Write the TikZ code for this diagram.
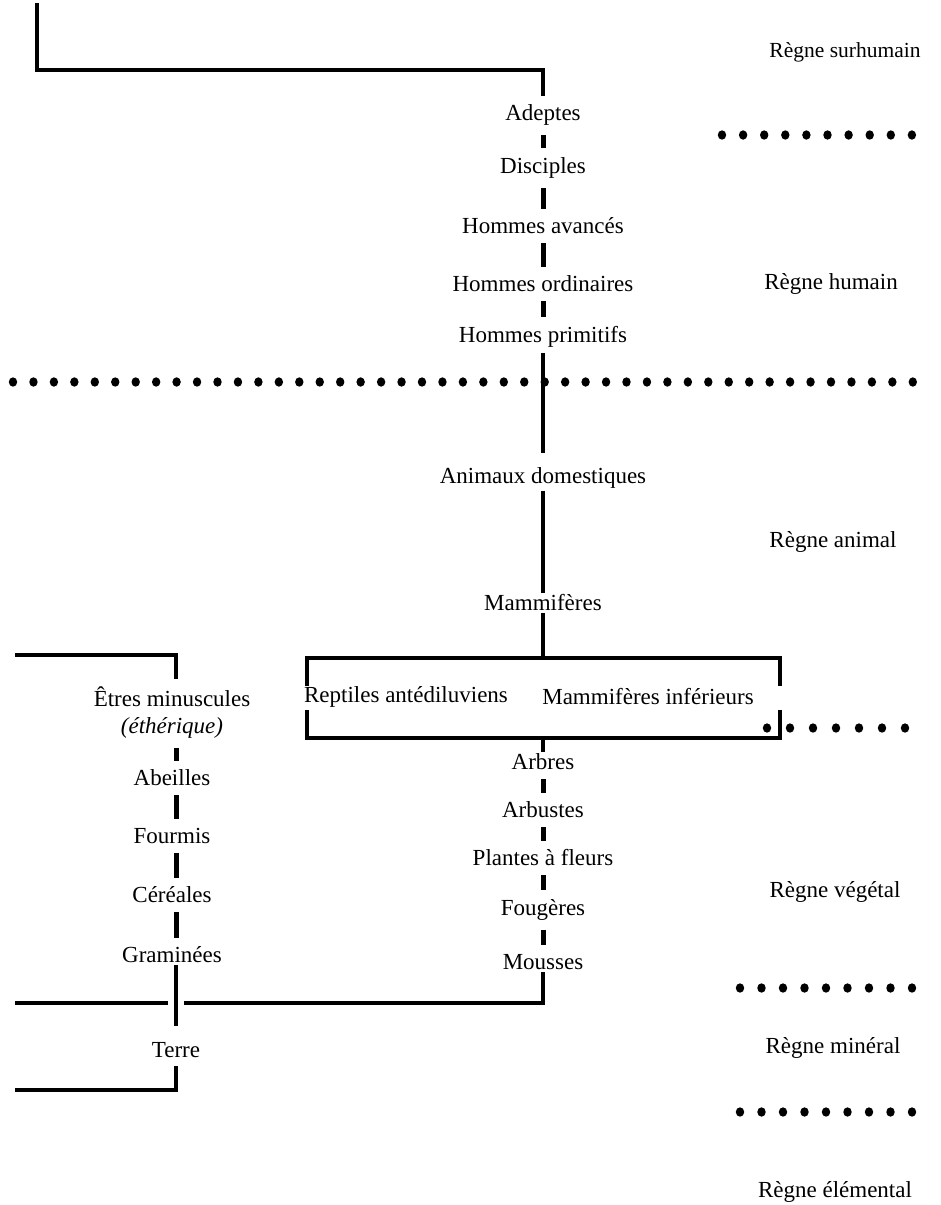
\documentclass[tikz,border=0pt]{standalone}
\usepackage{fontspec}
\setmainfont{Liberation Serif}
\usetikzlibrary{positioning}

\begin{document}
\begin{tikzpicture}[x=1pt,y=-1pt,line join=miter,
  every node/.style={font=\fontsize{23}{27}\selectfont,inner sep=2pt},
  link/.style={line width=4.5pt},
  tick/.style={line width=5pt,shorten >=7pt,shorten <=7pt},
  dot/.style={fill=black}]

\useasboundingbox (0,0) rectangle (940,1205);

% main column
\node (adeptes) at (543,115) {Adeptes};
\node (disciples) at (543,168) {Disciples};
\node (avances) at (543,226) {Hommes avancés};
\node (ordinaires) at (543,284) {Hommes ordinaires};
\node (primitifs) at (543,337) {Hommes primitifs};
\node (animaux) at (543,478) {Animaux domestiques};
\node (mammiferes) at (543,603) {Mammifères};
\node (reptiles) at (406,697) {Reptiles antédiluviens};
\node (inferieurs) at (648,697) {Mammifères inférieurs};
\node (arbres) at (543,762) {Arbres};
\node (arbustes) at (543,810) {Arbustes};
\node (plantes) at (543,858) {Plantes à fleurs};
\node (fougeres) at (543,910) {Fougères};
\node (mousses) at (543,962) {Mousses};

% left column
\node (etres) at (172,697) {Êtres minuscules};
\node (etherique) at (172,728) {\itshape (éthérique)};
\node (abeilles) at (172,778) {Abeilles};
\node (fourmis) at (172,836) {Fourmis};
\node (cereales) at (172,895) {Céréales};
\node (graminees) at (172,955) {Graminées};
\node (terre) at (176,1050) {Terre};

% kingdoms
\node (surhumain) at (845,52) {\fontsize{21.5}{25}\selectfont Règne surhumain};
\node (humain) at (831,284) {Règne humain};
\node (animal) at (833,542) {Règne animal};
\node (vegetal) at (835,892) {Règne végétal};
\node (mineral) at (833,1048) {Règne minéral};
\node (elemental) at (835,1192) {Règne élémental};

% corners
\coordinate (suptop) at (37,3);
\coordinate (supcorner) at (37,70);
\coordinate (repA) at (307,686);
\coordinate (repB) at (307,658);
\coordinate (repC) at (780,658);
\coordinate (repD) at (780,686);
\coordinate (infA) at (307,710);
\coordinate (infB) at (307,738);
\coordinate (infC) at (780,738);
\coordinate (infD) at (780,710);
\coordinate (etrtop) at (15,655);
\coordinate (vegleft) at (15,1003);
\coordinate (vegjoin) at (543,1003);
\coordinate (minleft) at (15,1090);

\draw[link] (suptop) -- (supcorner) -| ([yshift=6pt]adeptes.north);
\draw[tick] (adeptes) -- (disciples);
\draw[tick] (disciples) -- (avances);
\draw[tick] (avances) -- (ordinaires);
\draw[tick] (ordinaires) -- (primitifs);
\draw[link,shorten <=3pt,shorten >=12pt] (primitifs) -- (animaux);
\draw[link] (animaux) -- (mammiferes);
\draw[link] (mammiferes) -- (mammiferes |- repB);
\draw[link] (repA) -- (repB) -- (repC) -- (repD);
\draw[link] (infA) -- (infB) -- (infC) -- (infD);
\draw[link] (arbres |- infB) -- (arbres);
\draw[tick] (arbres) -- (arbustes);
\draw[tick] (arbustes) -- (plantes);
\draw[tick] (plantes) -- (fougeres);
\draw[tick] (fougeres) -- (mousses);
\draw[link] ([xshift=8pt]vegleft -| terre) -- (vegjoin) -- (mousses);
\draw[link] (vegleft) -- ([xshift=-8pt]vegleft -| terre);

\draw[link] (etrtop) -| ([yshift=6pt]etres.north -| terre);
\draw[tick] (etherique.south -| terre) -- (abeilles.north -| terre);
\draw[tick] (abeilles.south -| terre) -- (fourmis.north -| terre);
\draw[tick] (fourmis.south -| terre) -- (cereales.north -| terre);
\draw[tick] (cereales.south -| terre) -- (graminees.north -| terre);
\draw[link] (graminees.south -| terre) -- ([yshift=14pt]terre.north);
\draw[link] ([yshift=-6pt]terre.south) |- (minleft);

% dotted borders
\foreach \i in {0,...,9} \fill[dot] (722+21.1*\i,135) ellipse (4.2pt and 4.7pt);
\foreach \i in {0,...,44} \fill[dot] (13+20.45*\i,382) ellipse (4.2pt and 4.7pt);
\foreach \i in {0,...,6} \fill[dot] (767+23*\i,728) ellipse (4.2pt and 4.7pt);
\foreach \i in {0,...,8} \fill[dot] (740+21.5*\i,988) ellipse (4.2pt and 4.7pt);
\foreach \i in {0,...,8} \fill[dot] (740+21.5*\i,1112) ellipse (4.2pt and 4.7pt);

\end{tikzpicture}
\end{document}
